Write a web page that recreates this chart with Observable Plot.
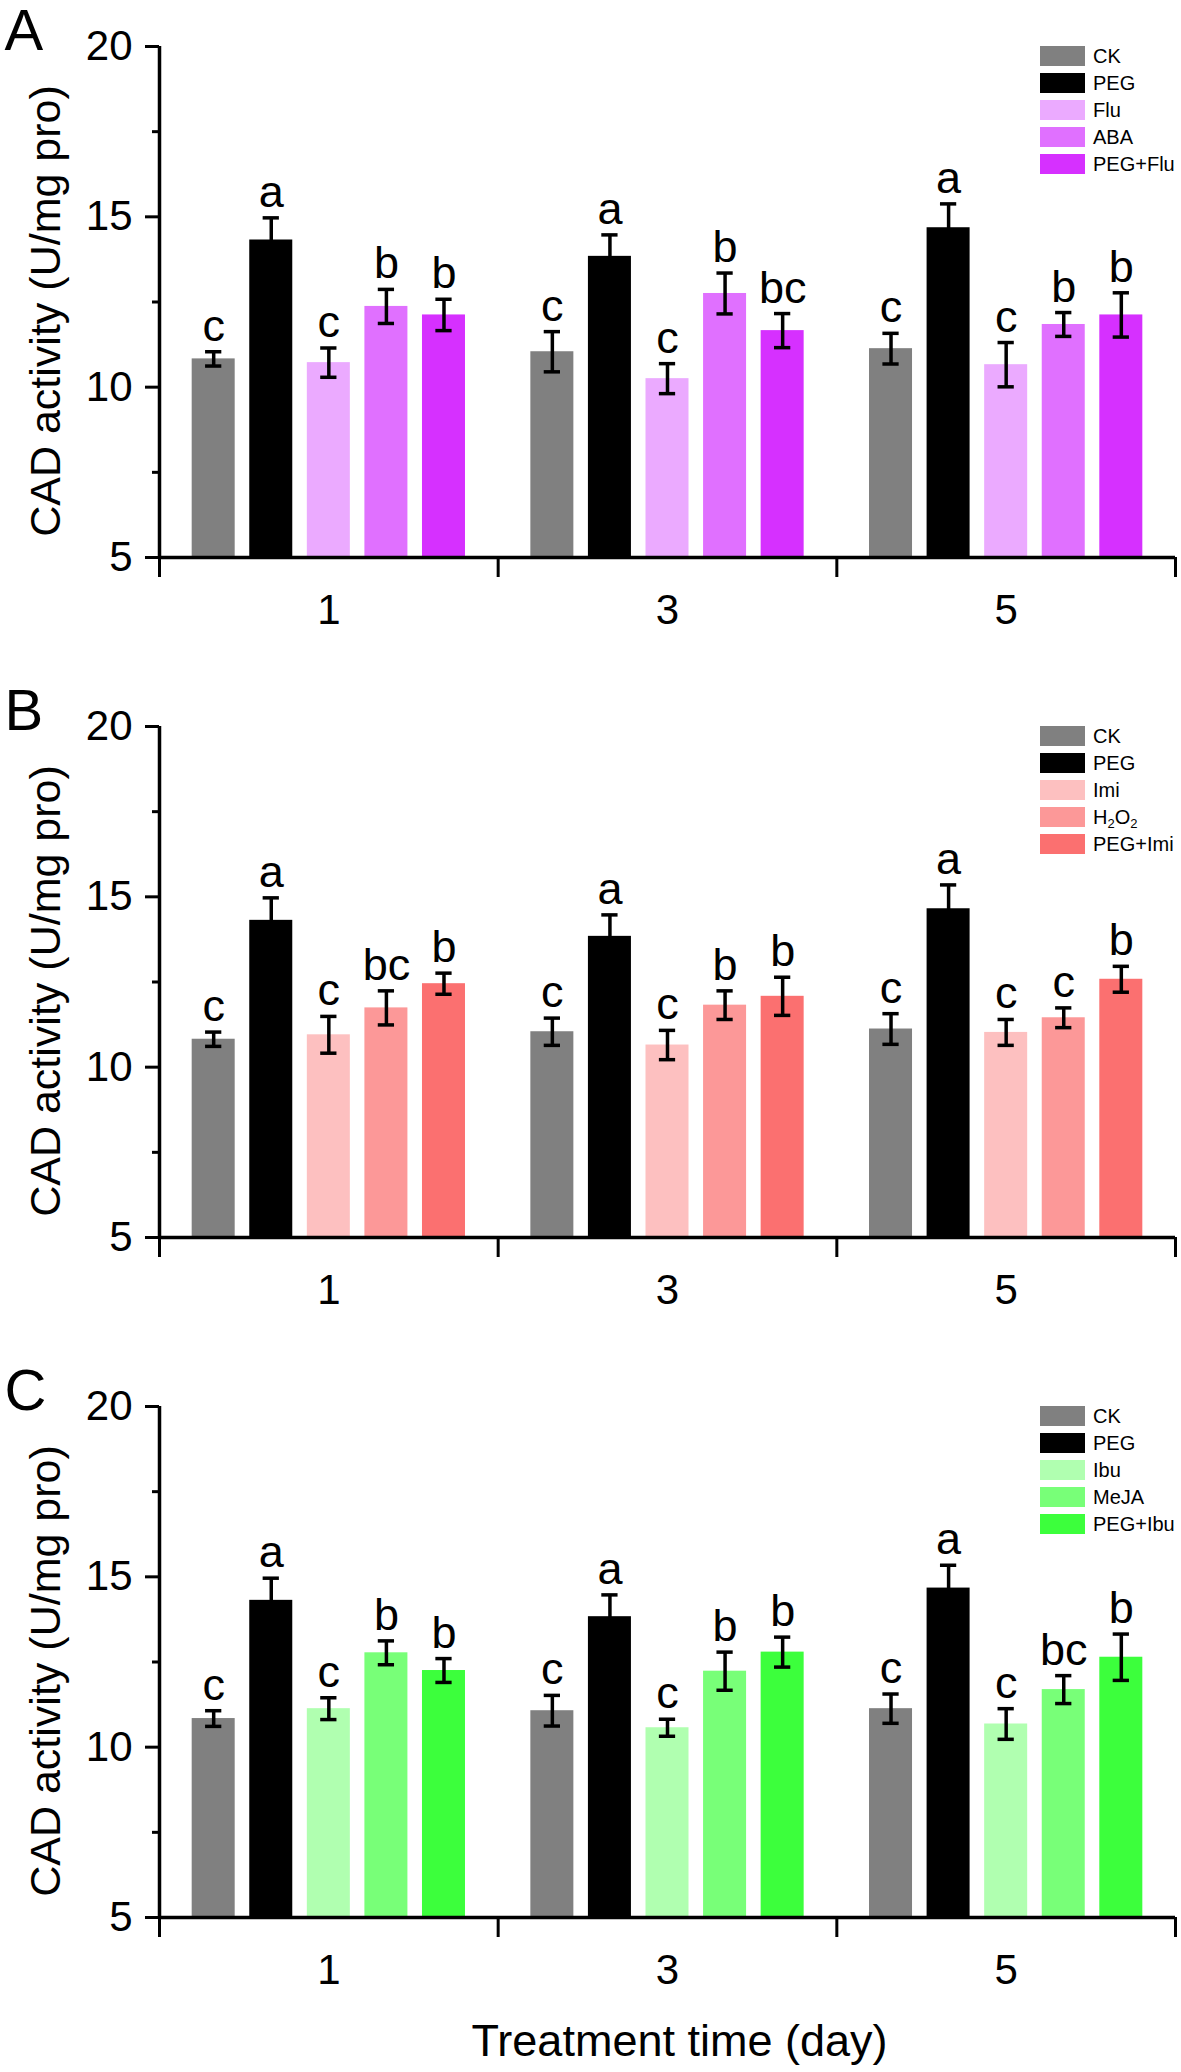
<!DOCTYPE html>
<html><head><meta charset="utf-8">
<script src="https://cdn.jsdelivr.net/npm/d3@7"></script>
<script src="https://cdn.jsdelivr.net/npm/@observablehq/plot@0.6"></script>
<style>
body{margin:0;background:#fff;font-family:"Liberation Sans",Arial,sans-serif;}
.panel{position:relative;width:1181px;}
.panel svg{display:block;overflow:visible;}
.legend{position:absolute;left:1040px;font-size:20px;line-height:20px;color:#000;}
.row{display:flex;align-items:center;height:20px;margin-bottom:7px;white-space:nowrap;}
.sw{width:45px;height:20px;margin-right:8px;flex:none;}
sub{font-size:13px;vertical-align:-4px;line-height:0;}
</style></head><body><div id="root"></div>
<script>
// ---------- data ----------
const days = ["1", "3", "5"];
const yTitle = "CAD activity (U/mg pro)";
const xTitle = "Treatment time (day)";

const namesA = ["CK", "PEG", "Flu", "ABA", "PEG+Flu"];
const colorsA = ["#808080", "#000000", "#EBAAFF", "#E070FF", "#D630FF"];
const meansA = [[10.83, 14.32, 10.72, 12.37, 12.12], [11.04, 13.84, 10.25, 12.75, 11.66], [11.13, 14.68, 10.66, 11.84, 12.12]];
const errsA = [[0.21, 0.65, 0.43, 0.50, 0.46], [0.59, 0.63, 0.44, 0.60, 0.50], [0.45, 0.70, 0.65, 0.35, 0.65]];
const lettersA = [["c", "a", "c", "b", "b"], ["c", "a", "c", "b", "bc"], ["c", "a", "c", "b", "b"]];

const namesB = ["CK", "PEG", "Imi", "H2O2", "PEG+Imi"];
const legendB = ["CK", "PEG", "Imi", "H<sub>2</sub>O<sub>2</sub>", "PEG+Imi"];
const colorsB = ["#808080", "#000000", "#FDC0C0", "#FC9898", "#FB7070"];
const meansB = [[10.82, 14.31, 10.95, 11.74, 12.45], [11.04, 13.84, 10.65, 11.82, 12.08], [11.12, 14.65, 11.02, 11.45, 12.58]];
const errsB = [[0.21, 0.66, 0.54, 0.50, 0.31], [0.40, 0.63, 0.43, 0.42, 0.56], [0.45, 0.70, 0.38, 0.29, 0.38]];
const lettersB = [["c", "a", "c", "bc", "b"], ["c", "a", "c", "b", "b"], ["c", "a", "c", "c", "b"]];

const namesC = ["CK", "PEG", "Ibu", "MeJA", "PEG+Ibu"];
const colorsC = ["#808080", "#000000", "#B0FFB0", "#78FF78", "#3CFF3C"];
const meansC = [[10.84, 14.31, 11.13, 12.77, 12.25], [11.07, 13.83, 10.57, 12.23, 12.79], [11.13, 14.67, 10.68, 11.69, 12.64]];
const errsC = [[0.23, 0.65, 0.32, 0.35, 0.35], [0.45, 0.64, 0.25, 0.56, 0.44], [0.43, 0.67, 0.45, 0.41, 0.68]];
const lettersC = [["c", "a", "c", "b", "b"], ["c", "a", "c", "b", "b"], ["c", "a", "c", "bc", "b"]];

const yTicks = [5, 10, 15, 20];
const yMinor = [7.5, 12.5, 17.5];

// ---------- layout constants ----------
const PITCH = 0.17, BW = 0.127, CAP = 0.024;
const FONT = "'Liberation Sans', Arial, sans-serif";

function panel(letter, names, legendLabels, colors, means, errs, letters, height, withTitle) {
  const rows = [];
  days.forEach((d, i) => names.forEach((n, j) => rows.push({
    i, j, name: n, v: means[i][j], e: errs[i][j], l: letters[i][j],
    c: i + 0.5 + (j - 2) * PITCH
  })));
  const bounds = days.map((d, i) => i).concat([days.length]);
  const centers = days.map((d, i) => i + 0.5);
  const marks = [
    Plot.rect(rows, {x1: d => d.c - BW / 2, x2: d => d.c + BW / 2, y1: yTicks[0], y2: "v", fill: "name"}),
    Plot.ruleX(rows, {x: "c", y1: d => d.v - d.e, y2: d => d.v + d.e, stroke: "#000", strokeWidth: 3.5}),
    Plot.ruleY(rows, {y: d => d.v + d.e, x1: d => d.c - CAP, x2: d => d.c + CAP, stroke: "#000", strokeWidth: 3.5}),
    Plot.ruleY(rows, {y: d => d.v - d.e, x1: d => d.c - CAP, x2: d => d.c + CAP, stroke: "#000", strokeWidth: 3.5}),
    Plot.text(rows, {x: "c", y: d => d.v + d.e, text: "l", dy: -11, lineAnchor: "bottom", fontSize: 45}),
    Plot.axisY({ticks: yTicks, tickSize: 14, tickPadding: 13, fontSize: 42, strokeWidth: 3, label: null}),
    Plot.axisY({ticks: yMinor, tickSize: 7, tickFormat: () => "", strokeWidth: 3, label: null}),
    Plot.axisX({ticks: bounds, tickSize: 20, tickFormat: () => "", strokeWidth: 3, label: null}),
    Plot.axisX({ticks: centers, tickSize: 0, tickPadding: 37, tickFormat: t => days[Math.floor(t)], fontSize: 42, label: null}),
    Plot.ruleX([0], {y1: yTicks[0], y2: yTicks[yTicks.length - 1], strokeWidth: 3.5}),
    Plot.ruleY([yTicks[0]], {x1: 0, x2: days.length, strokeWidth: 3.5}),
    Plot.text([yTitle], {frameAnchor: "left", textAnchor: "middle", lineAnchor: "middle", rotate: -90, dx: -113, dy: 9, fontSize: 43, text: d => d}),
    Plot.text([letter], {frameAnchor: "top-left", textAnchor: "start", lineAnchor: "top", dx: -155, dy: -38, fontSize: 58, text: d => d})
  ];
  if (withTitle) marks.push(Plot.text([xTitle], {frameAnchor: "bottom", textAnchor: "middle", dx: 12, dy: 124, lineAnchor: "middle", fontSize: 45, text: d => d}));
  const plot = Plot.plot({
    width: 1181, height,
    marginLeft: 159, marginRight: 6, marginTop: 46, marginBottom: height - 557,
    x: {domain: [0, days.length], label: null},
    y: {domain: [yTicks[0], yTicks[yTicks.length - 1]], label: null},
    color: {domain: names, range: colors},
    style: {fontFamily: FONT, color: "#000", background: "#fff", overflow: "visible"},
    marks
  });
  const div = document.createElement("div");
  div.className = "panel";
  div.appendChild(plot);
  const leg = document.createElement("div");
  leg.className = "legend";
  leg.style.top = "46px";
  leg.innerHTML = legendLabels.map((t, k) =>
    `<div class="row"><div class="sw" style="background:${colors[k]}"></div><span>${t}</span></div>`).join("");
  div.appendChild(leg);
  return div;
}

const root = document.getElementById("root");
root.appendChild(panel("A", namesA, namesA, colorsA, meansA, errsA, lettersA, 680, false));
root.appendChild(panel("B", namesB, legendB, colorsB, meansB, errsB, lettersB, 680, false));
root.appendChild(panel("C", namesC, namesC, colorsC, meansC, errsC, lettersC, 712, true));
</script></body></html>
